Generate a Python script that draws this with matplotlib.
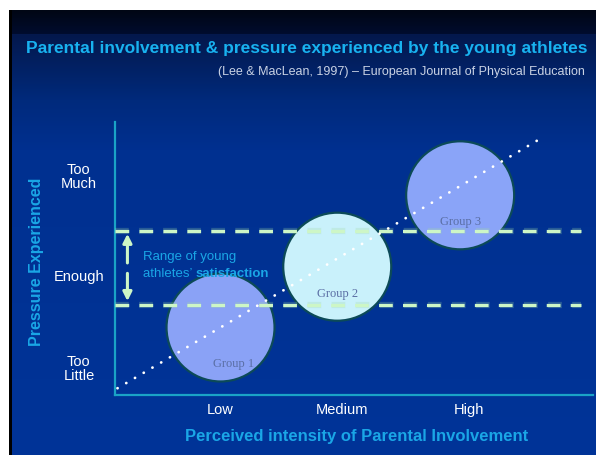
"""Parental involvement vs pressure experienced (Lee & MacLean, 1997)."""

import matplotlib

matplotlib.use("Agg", force=True)

import matplotlib.pyplot as plt
import numpy as np

# chart data
involvement_levels = ["Low", "Medium", "High"]
involvement_pos = [0.0, 0.98, 2.0]
pressure_levels = ["Too\nLittle", "Enough", "Too\nMuch"]
pressure_pos = [0.0, 0.96, 2.0]

groups = ["Group 1", "Group 2", "Group 3"]
group_x = [0.0, 0.94, 1.93]
group_y = [0.42, 1.05, 1.79]
group_colors = ["#8aa2f6", "#c9f1fb", "#8aa4f8"]

satisfaction_low = 0.65
satisfaction_high = 1.42

trend_x = [-0.83, 2.58]
trend_y = [-0.21, 2.38]

W, H = 598, 455
fig = plt.figure(figsize=(W / 100, H / 100), dpi=100, facecolor="white")

# slide background
bg = fig.add_axes([9 / W, 0, (596 - 9) / W, (H - 10) / H])
bg.set_axis_off()
rows = np.arange(10, H)
stops = [10, 33, 34, 100, 150, 455]
cols = np.array([[0, 6, 20], [0, 12, 46], [4, 24, 76], [0, 42, 124],
                 [0, 48, 144], [0, 52, 152]]) / 255
grad = np.stack([np.interp(rows, stops, cols[:, i]) for i in range(3)], axis=-1)
img = np.repeat(grad[:, None, :], 587, axis=1)
img[:, :3, :] = 0
bg.imshow(img, aspect="auto", extent=[0, 1, 0, 1], interpolation="nearest")
bg.set_xlim(0, 1)
bg.set_ylim(0, 1)

fig.text(0.5 * (29 + 585) / W, 1 - 48 / H,
         "Parental involvement & pressure experienced by the young athletes",
         ha="center", va="center", color="#18b2f0", fontsize=12.5,
         fontweight="bold", family="Liberation Sans")
fig.text(585 / W, 1 - 72 / H,
         "(Lee & MacLean, 1997) \u2013 European Journal of Physical Education",
         ha="right", va="center", color="#c9d2e4", fontsize=9,
         family="Liberation Sans")

ax = fig.add_axes([115 / W, (H - 395) / H, (593 - 115) / W, (395 - 122) / H])
ax.set_facecolor("none")
ax.set_xlim(-0.85, 3.0)
ax.set_ylim(-0.28, 2.55)
for side in ["top", "right"]:
    ax.spines[side].set_visible(False)
for side in ["left", "bottom"]:
    ax.spines[side].set_color("#1aa3c6")
    ax.spines[side].set_linewidth(1.6)

ax.set_xticks(involvement_pos, involvement_levels)
ax.set_yticks(pressure_pos, pressure_levels)
ax.tick_params(axis="both", length=0, labelcolor="white", labelsize=10.5)
ax.tick_params(axis="y", pad=26)
ax.tick_params(axis="x", pad=6)
for lab in ax.get_yticklabels():
    lab.set_horizontalalignment("center")
    lab.set_multialignment("center")
    lab.set_linespacing(1.0)
for lab in ax.get_xticklabels() + ax.get_yticklabels():
    lab.set_family("Liberation Sans")

ax.set_xlabel("Perceived intensity of Parental Involvement", color="#1aa6e6",
              fontsize=12, fontweight="bold", family="Liberation Sans")
ax.set_ylabel("Pressure Experienced", color="#1aa6e6", fontsize=11.5,
              fontweight="bold", family="Liberation Sans")
ax.xaxis.set_label_coords((357 - 115) / 478, -(436 - 395) / 273)
ax.yaxis.set_label_coords(-(115 - 37) / 478, (395 - 262) / 273)
ax.xaxis.label.set_va("center")
ax.yaxis.label.set_va("center")

# group circles
ax.scatter(group_x, group_y, s=6050, c=group_colors, edgecolors="#0c4a58",
           linewidths=1.6, zorder=3)
label_offsets = [(9.5, -26), (0, -20), (0, -19)]
for gx, gy, name, off in zip(group_x, group_y, groups, label_offsets):
    ax.annotate(name, (gx, gy), xytext=off, textcoords="offset points",
                ha="center", va="center", fontsize=9, color="#5a6ea4",
                family="Liberation Serif", zorder=6)

# satisfaction band
for yv in [satisfaction_low, satisfaction_high]:
    ax.axhline(yv, xmax=0.975, color="#9fd8a0", lw=4.5, alpha=0.25,
               linestyle=(0, (2.2, 1.65)), zorder=4)
    ax.axhline(yv, xmax=0.975, color="#cdf6c6", lw=2.3,
               linestyle=(0, (4.3, 3.2)), zorder=4)

ax.plot(trend_x, trend_y, color="white", lw=2.0, solid_capstyle="round",
        dash_capstyle="round", linestyle=(0, (0.05, 3.6)), zorder=5)

# split double arrow marking the range
arrow_x = -0.75
ax.annotate("", xy=(arrow_x, satisfaction_high), xytext=(0, -23),
            textcoords="offset points",
            arrowprops=dict(arrowstyle="-|>", color="#cdf6c6", lw=2.2,
                            mutation_scale=13, shrinkA=0, shrinkB=2))
ax.annotate("", xy=(arrow_x, satisfaction_low), xytext=(0, 23),
            textcoords="offset points",
            arrowprops=dict(arrowstyle="-|>", color="#cdf6c6", lw=2.2,
                            mutation_scale=13, shrinkA=0, shrinkB=3))

mid = 0.5 * (satisfaction_low + satisfaction_high)
ax.annotate("Range of young", (arrow_x, mid), xytext=(11.5, 8),
            textcoords="offset points", ha="left", va="center",
            color="#1aa6e6", fontsize=9.5, family="Liberation Sans")
t = ax.annotate("athletes\u2019 ", (arrow_x, mid), xytext=(11.5, -4),
                textcoords="offset points", ha="left", va="center",
                color="#1aa6e6", fontsize=9.5, family="Liberation Sans")
ax.annotate("satisfaction", xy=(1, 0), xycoords=t, ha="left", va="bottom",
            color="#1aa6e6", fontsize=9.5, fontweight="bold",
            family="Liberation Sans")

fig.savefig("out.png", dpi=100, facecolor="white")
